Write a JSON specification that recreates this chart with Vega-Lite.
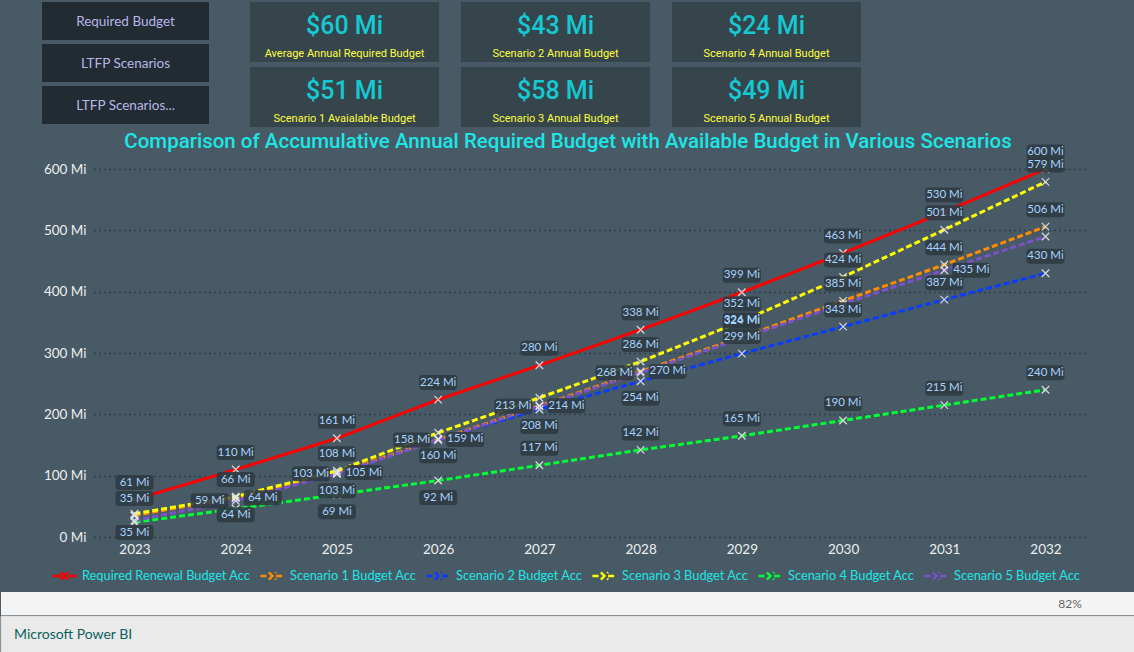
{
  "$schema": "https://vega.github.io/schema/vega-lite/v6.json",
  "background": "#475A66",
  "padding": 0,
  "spacing": 0,
  "config": {"view": {"stroke": null}, "font": "Lato"},
  "resolve": {"scale": {"color": "independent", "strokeDash": "independent"}, "legend": {"color": "independent", "strokeDash": "independent"}},
  "datasets": {
    "buttons": [
      {"col": 0, "row": 0, "label": "Required Budget"},
      {"col": 0, "row": 1, "label": "LTFP Scenarios"},
      {"col": 0, "row": 2, "label": "LTFP Scenarios..."}
    ],
    "cards": [
      {"col": 1, "row": 0, "amount": 60, "caption": "Average Annual Required Budget"},
      {"col": 1, "row": 1, "amount": 51, "caption": "Scenario 1 Avaialable Budget"},
      {"col": 2, "row": 0, "amount": 43, "caption": "Scenario 2 Annual Budget"},
      {"col": 2, "row": 1, "amount": 58, "caption": "Scenario 3 Annual Budget"},
      {"col": 3, "row": 0, "amount": 24, "caption": "Scenario 4 Annual Budget"},
      {"col": 3, "row": 1, "amount": 49, "caption": "Scenario 5 Annual Budget"}
    ],
    "budget": [
      {"year": 2023, "key": "S4", "series": "Scenario 4 Budget Acc", "value": 24},
      {"year": 2024, "key": "S4", "series": "Scenario 4 Budget Acc", "value": 46},
      {"year": 2025, "key": "S4", "series": "Scenario 4 Budget Acc", "value": 69},
      {"year": 2026, "key": "S4", "series": "Scenario 4 Budget Acc", "value": 92},
      {"year": 2027, "key": "S4", "series": "Scenario 4 Budget Acc", "value": 117},
      {"year": 2028, "key": "S4", "series": "Scenario 4 Budget Acc", "value": 142},
      {"year": 2029, "key": "S4", "series": "Scenario 4 Budget Acc", "value": 165},
      {"year": 2030, "key": "S4", "series": "Scenario 4 Budget Acc", "value": 190},
      {"year": 2031, "key": "S4", "series": "Scenario 4 Budget Acc", "value": 215},
      {"year": 2032, "key": "S4", "series": "Scenario 4 Budget Acc", "value": 240},
      {"year": 2023, "key": "S2", "series": "Scenario 2 Budget Acc", "value": 35},
      {"year": 2024, "key": "S2", "series": "Scenario 2 Budget Acc", "value": 64},
      {"year": 2025, "key": "S2", "series": "Scenario 2 Budget Acc", "value": 103},
      {"year": 2026, "key": "S2", "series": "Scenario 2 Budget Acc", "value": 160},
      {"year": 2027, "key": "S2", "series": "Scenario 2 Budget Acc", "value": 208},
      {"year": 2028, "key": "S2", "series": "Scenario 2 Budget Acc", "value": 254},
      {"year": 2029, "key": "S2", "series": "Scenario 2 Budget Acc", "value": 299},
      {"year": 2030, "key": "S2", "series": "Scenario 2 Budget Acc", "value": 343},
      {"year": 2031, "key": "S2", "series": "Scenario 2 Budget Acc", "value": 387},
      {"year": 2032, "key": "S2", "series": "Scenario 2 Budget Acc", "value": 430},
      {"year": 2023, "key": "S1", "series": "Scenario 1 Budget Acc", "value": 35},
      {"year": 2024, "key": "S1", "series": "Scenario 1 Budget Acc", "value": 64},
      {"year": 2025, "key": "S1", "series": "Scenario 1 Budget Acc", "value": 105},
      {"year": 2026, "key": "S1", "series": "Scenario 1 Budget Acc", "value": 159},
      {"year": 2027, "key": "S1", "series": "Scenario 1 Budget Acc", "value": 214},
      {"year": 2028, "key": "S1", "series": "Scenario 1 Budget Acc", "value": 270},
      {"year": 2029, "key": "S1", "series": "Scenario 1 Budget Acc", "value": 326},
      {"year": 2030, "key": "S1", "series": "Scenario 1 Budget Acc", "value": 385},
      {"year": 2031, "key": "S1", "series": "Scenario 1 Budget Acc", "value": 444},
      {"year": 2032, "key": "S1", "series": "Scenario 1 Budget Acc", "value": 506},
      {"year": 2023, "key": "S5", "series": "Scenario 5 Budget Acc", "value": 27},
      {"year": 2024, "key": "S5", "series": "Scenario 5 Budget Acc", "value": 59},
      {"year": 2025, "key": "S5", "series": "Scenario 5 Budget Acc", "value": 103},
      {"year": 2026, "key": "S5", "series": "Scenario 5 Budget Acc", "value": 158},
      {"year": 2027, "key": "S5", "series": "Scenario 5 Budget Acc", "value": 213},
      {"year": 2028, "key": "S5", "series": "Scenario 5 Budget Acc", "value": 268},
      {"year": 2029, "key": "S5", "series": "Scenario 5 Budget Acc", "value": 324},
      {"year": 2030, "key": "S5", "series": "Scenario 5 Budget Acc", "value": 380},
      {"year": 2031, "key": "S5", "series": "Scenario 5 Budget Acc", "value": 435},
      {"year": 2032, "key": "S5", "series": "Scenario 5 Budget Acc", "value": 490},
      {"year": 2023, "key": "S3", "series": "Scenario 3 Budget Acc", "value": 38},
      {"year": 2024, "key": "S3", "series": "Scenario 3 Budget Acc", "value": 66},
      {"year": 2025, "key": "S3", "series": "Scenario 3 Budget Acc", "value": 108},
      {"year": 2026, "key": "S3", "series": "Scenario 3 Budget Acc", "value": 170},
      {"year": 2027, "key": "S3", "series": "Scenario 3 Budget Acc", "value": 227},
      {"year": 2028, "key": "S3", "series": "Scenario 3 Budget Acc", "value": 286},
      {"year": 2029, "key": "S3", "series": "Scenario 3 Budget Acc", "value": 352},
      {"year": 2030, "key": "S3", "series": "Scenario 3 Budget Acc", "value": 424},
      {"year": 2031, "key": "S3", "series": "Scenario 3 Budget Acc", "value": 501},
      {"year": 2032, "key": "S3", "series": "Scenario 3 Budget Acc", "value": 579},
      {"year": 2023, "key": "R", "series": "Required Renewal Budget Acc", "value": 61},
      {"year": 2024, "key": "R", "series": "Required Renewal Budget Acc", "value": 110},
      {"year": 2025, "key": "R", "series": "Required Renewal Budget Acc", "value": 161},
      {"year": 2026, "key": "R", "series": "Required Renewal Budget Acc", "value": 224},
      {"year": 2027, "key": "R", "series": "Required Renewal Budget Acc", "value": 280},
      {"year": 2028, "key": "R", "series": "Required Renewal Budget Acc", "value": 338},
      {"year": 2029, "key": "R", "series": "Required Renewal Budget Acc", "value": 399},
      {"year": 2030, "key": "R", "series": "Required Renewal Budget Acc", "value": 463},
      {"year": 2031, "key": "R", "series": "Required Renewal Budget Acc", "value": 530},
      {"year": 2032, "key": "R", "series": "Required Renewal Budget Acc", "value": 600}
    ],
    "pct": [{"pos": "pct", "item": "82%"}],
    "link": [{"pos": "link", "item": "Microsoft Power BI"}]
  },
  "vconcat": [
    {
      "width": 1041,
      "height": 132,
      "resolve": {"scale": {"x": "independent", "y": "independent"}},
      "layer": [
        {
          "data": {"name": "buttons"},
          "encoding": {
            "x": {"field": "col", "type": "ordinal", "axis": null, "scale": {"domain": [0], "range": [-52, 115], "paddingInner": 0, "paddingOuter": 0}},
            "y": {"field": "row", "type": "ordinal", "axis": null, "scale": {"domain": [0, 1, 2], "range": [2, 124], "paddingInner": 0.095, "paddingOuter": 0}}
          },
          "layer": [
            {"mark": {"type": "rect", "fill": "#222B31"}},
            {"mark": {"type": "text", "color": "#B8B6EA", "font": "Lato", "fontSize": 13.5, "baseline": "middle", "dy": 1}, "encoding": {"text": {"field": "label"}}}
          ]
        },
        {
          "data": {"name": "cards"},
          "encoding": {
            "x": {"field": "col", "type": "ordinal", "axis": null, "scale": {"domain": [1, 2, 3], "range": [156, 767], "paddingInner": 0.104, "paddingOuter": 0}},
            "y": {"field": "row", "type": "ordinal", "axis": null, "scale": {"domain": [0, 1], "range": [2, 127], "paddingInner": 0.08, "paddingOuter": 0}}
          },
          "layer": [
            {"mark": {"type": "rect", "fill": "#36444B"}},
            {"mark": {"type": "text", "color": "#14C9D2", "font": "Roboto", "fontWeight": 500, "fontSize": 25, "baseline": "middle", "dy": -6, "text": {"expr": "'$' + datum.amount + ' Mi'"}}},
            {"mark": {"type": "text", "color": "#FFFF40", "font": "Roboto", "fontSize": 11, "baseline": "middle", "dy": 22}, "encoding": {"text": {"field": "caption"}}}
          ]
        }
      ]
    },
    {
      "width": 992,
      "height": 368,
      "title": {"text": "Comparison of Accumulative Annual Required Budget with Available Budget in Various Scenarios", "color": "#1CE6E6", "font": "Roboto", "fontWeight": 500, "fontSize": 20.5, "anchor": "middle", "frame": "group", "dx": -22, "offset": -8},
      "data": {"name": "budget"},
      "encoding": {
        "x": {"field": "year", "type": "ordinal", "title": null, "scale": {"type": "point", "padding": 0.4},
              "axis": {"domain": false, "ticks": false, "labelAngle": 0, "labelPadding": 5, "labelColor": "#EEEEEE", "labelFont": "Lato", "labelFontSize": 13.5, "minExtent": 55, "maxExtent": 55}},
        "y": {"field": "value", "type": "quantitative", "title": null, "scale": {"domain": [0, 600]},
              "axis": {"values": [0, 100, 200, 300, 400, 500, 600], "labelExpr": "datum.value + ' Mi'", "domain": false, "ticks": false, "labelPadding": 8, "labelColor": "#EEEEEE", "labelFont": "Lato", "labelFontSize": 13.5, "gridColor": "#1C252A", "gridDash": [1, 4], "gridWidth": 1.3, "minExtent": 93, "maxExtent": 93}}
      },
      "layer": [
        {
          "mark": {"type": "line", "strokeWidth": 3},
          "encoding": {
            "color": {"field": "series", "type": "nominal",
              "scale": {"domain": ["Required Renewal Budget Acc", "Scenario 1 Budget Acc", "Scenario 2 Budget Acc", "Scenario 3 Budget Acc", "Scenario 4 Budget Acc", "Scenario 5 Budget Acc"],
                        "range": ["#FF0000", "#FF8C00", "#0A3CFF", "#FFFF00", "#00FF33", "#7B52CC"]},
              "legend": {"orient": "none", "legendX": -43, "legendY": 393, "direction": "horizontal", "columns": 6, "title": null, "labelColor": "#1EE6E6", "labelFont": "Lato", "labelFontSize": 12.8, "labelLimit": 0, "symbolType": "M-1,0L-0.3,0M0.3,0L1,0M-0.3,-0.3L0.3,0.3M-0.3,0.3L0.3,-0.3", "symbolSize": 576, "symbolStrokeWidth": 2.5, "columnPadding": 4, "labelOffset": 4}},
            "strokeDash": {"field": "series", "type": "nominal",
              "scale": {"domain": ["Required Renewal Budget Acc", "Scenario 1 Budget Acc", "Scenario 2 Budget Acc", "Scenario 3 Budget Acc", "Scenario 4 Budget Acc", "Scenario 5 Budget Acc"],
                        "range": [[1, 0], [6, 3], [6, 3], [6, 3], [6, 3], [6, 3]]}}
          }
        },
        {
          "mark": {"type": "point", "shape": "M-1,-1L1,1M-1,1L1,-1", "size": 56, "filled": false, "stroke": "#E4E4E4", "strokeWidth": 1.3, "opacity": 0.9}
        },
        {
          "transform": [{"filter": "!(((datum.key=='S2' && datum.year<=2028) || (datum.key=='S4' && (datum.year==2025||datum.year==2026))) || ((datum.key=='S1' && datum.year>=2024 && datum.year<=2028) || (datum.key=='S5' && datum.year==2031)) || (datum.key=='S5' && datum.year>=2024 && datum.year<=2028) || (datum.key=='S3' && (datum.year==2023||datum.year==2026||datum.year==2027)) || (datum.key=='S5' && (datum.year==2023||datum.year==2030||datum.year==2032)) || (datum.key=='S4' && datum.year<=2024))"}],
          "layer": [
            {"mark": {"type": "rect", "width": 38, "height": 15, "cornerRadius": 3, "fill": "#2F3B42", "opacity": 0.9, "yOffset": -17}},
            {"mark": {"type": "text", "dy": -17, "baseline": "middle", "font": "Lato", "fontSize": 11.5, "color": "#A8D3FF", "text": {"expr": "datum.value + ' Mi'"}}}
          ]
        },
        {
          "transform": [{"filter": "(datum.key=='S2' && datum.year<=2028) || (datum.key=='S4' && (datum.year==2025||datum.year==2026))"}],
          "layer": [
            {"mark": {"type": "rect", "width": 38, "height": 15, "cornerRadius": 3, "fill": "#2F3B42", "opacity": 0.9, "yOffset": 17}},
            {"mark": {"type": "text", "dy": 17, "baseline": "middle", "font": "Lato", "fontSize": 11.5, "color": "#A8D3FF", "text": {"expr": "datum.value + ' Mi'"}}}
          ]
        },
        {
          "transform": [{"filter": "(datum.key=='S1' && datum.year>=2024 && datum.year<=2028) || (datum.key=='S5' && datum.year==2031)"}],
          "layer": [
            {"mark": {"type": "rect", "width": 38, "height": 15, "cornerRadius": 3, "fill": "#2F3B42", "opacity": 0.9, "xOffset": 27}},
            {"mark": {"type": "text", "dx": 27, "baseline": "middle", "font": "Lato", "fontSize": 11.5, "color": "#A8D3FF", "text": {"expr": "datum.value + ' Mi'"}}}
          ]
        },
        {
          "transform": [{"filter": "datum.key=='S5' && datum.year>=2024 && datum.year<=2028"}],
          "layer": [
            {"mark": {"type": "rect", "width": 38, "height": 15, "cornerRadius": 3, "fill": "#2F3B42", "opacity": 0.9, "xOffset": -26}},
            {"mark": {"type": "text", "dx": -26, "baseline": "middle", "font": "Lato", "fontSize": 11.5, "color": "#A8D3FF", "text": {"expr": "datum.value + ' Mi'"}}}
          ]
        }
      ]
    },
    {
      "width": 1041,
      "height": 23,
      "data": {"name": "pct"},
      "resolve": {"scale": {"x": "independent"}},
      "layer": [
        {
          "mark": {"type": "rect", "fill": "#F4F4F4"},
          "encoding": {"x": {"field": "pos", "type": "nominal", "axis": null, "scale": {"type": "band", "domain": ["pct"], "range": [-93, 1041], "paddingInner": 0, "paddingOuter": 0}}}
        },
        {
          "mark": {"type": "text", "font": "Lato", "fontSize": 12, "color": "#666666", "align": "center", "baseline": "middle"},
          "encoding": {
            "x": {"field": "pos", "type": "nominal", "axis": null, "scale": {"type": "point", "domain": ["pct"], "range": [976, 976]}},
            "text": {"field": "item"}
          }
        }
      ]
    },
    {
      "width": 1041,
      "height": 37,
      "data": {"name": "link"},
      "resolve": {"scale": {"x": "independent"}},
      "layer": [
        {
          "mark": {"type": "rect", "fill": "#EAEAEA", "stroke": "#CFCFCF", "strokeWidth": 1},
          "encoding": {"x": {"field": "pos", "type": "nominal", "axis": null, "scale": {"type": "band", "domain": ["link"], "range": [-93, 1041], "paddingInner": 0, "paddingOuter": 0}}}
        },
        {
          "mark": {"type": "text", "font": "Lato", "fontSize": 14, "color": "#0B625D", "align": "left", "baseline": "middle"},
          "encoding": {
            "x": {"field": "pos", "type": "nominal", "axis": null, "scale": {"type": "point", "domain": ["link"], "range": [-80, -80]}},
            "text": {"field": "item"}
          }
        }
      ]
    }
  ]
}
